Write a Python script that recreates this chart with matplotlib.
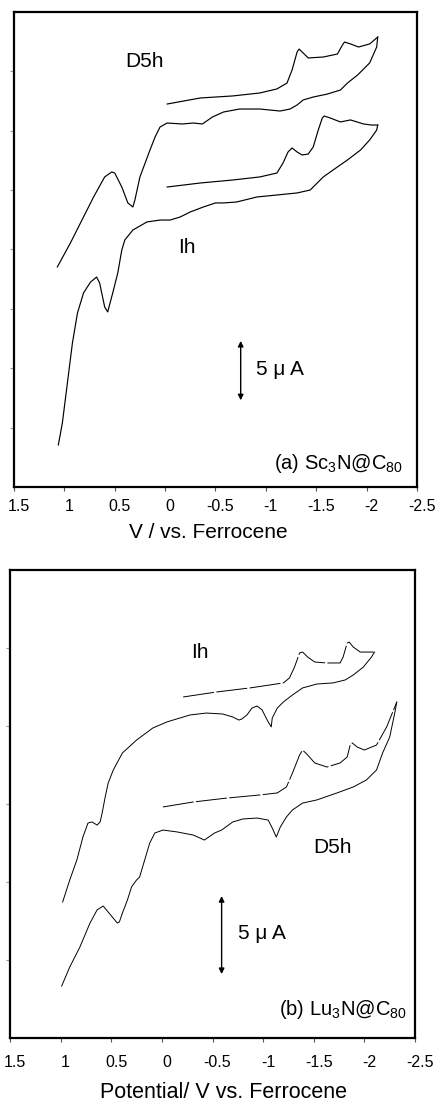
# coding:utf-8
'''
   function: cyclic voltammograms of Sc3N@C80 and Lu3N@C80 (Ih and D5h isomers)
'''
import matplotlib
matplotlib.use('Agg')
import matplotlib.pyplot as plt
import matplotlib.transforms as mtransforms

plt.rcParams['font.family'] = ['Liberation Sans', 'DejaVu Sans']
plt.rcParams['mathtext.default'] = 'regular'
plt.rcParams['lines.solid_joinstyle'] = 'round'
plt.rcParams['lines.dash_joinstyle'] = 'round'

x_ticks = [1.5, 1, 0.5, 0, -0.5, -1, -1.5, -2, -2.5]
x_tick_labels = ['1.5', '1', '0.5', '0', '-0.5', '-1', '-1.5', '-2', '-2.5']

# (a) Sc3N@C80  D5h  (V vs Fc, current in uA, arbitrary offset)
sc_d5h_fwd_v = [-0.02, -0.35, -0.67, -0.94, -1.11, -1.21, -1.26, -1.31, -1.33, -1.37,
                -1.42, -1.57, -1.71, -1.76, -1.78, -1.84, -1.92, -2.03, -2.11]
sc_d5h_fwd_i = [32.25, 32.76, 32.93, 33.18, 33.52, 34.02, 35.12, 36.63, 36.88, 36.55,
                36.13, 36.21, 36.46, 37.22, 37.47, 37.31, 37.05, 37.31, 37.89]
sc_d5h_rev_v = [-2.11, -2.10, -2.03, -1.91, -1.81, -1.74, -1.61, -1.47, -1.37, -1.31,
                -1.24, -1.14, -0.94, -0.74, -0.58, -0.47, -0.37, -0.28, -0.17, -0.02,
                0.05, 0.10, 0.15, 0.25, 0.30, 0.32, 0.37, 0.43, 0.50, 0.53,
                0.60, 0.71, 0.81, 0.94, 1.07]
sc_d5h_rev_i = [37.89, 37.05, 35.71, 34.69, 34.02, 33.43, 33.09, 32.84, 32.59, 32.17,
                31.83, 31.66, 31.83, 31.83, 31.58, 31.16, 30.57, 30.65, 30.57, 30.65,
                30.32, 29.47, 28.38, 26.11, 24.17, 23.58, 23.92, 25.26, 26.44, 26.53,
                26.11, 24.42, 22.74, 20.55, 18.53]

# (a) Sc3N@C80  Ih
sc_ih_fwd_v = [-0.02, -0.35, -0.67, -0.94, -1.11, -1.17, -1.22, -1.26, -1.31, -1.36,
               -1.42, -1.47, -1.52, -1.56, -1.58, -1.64, -1.74, -1.84, -1.97, -2.05, -2.11]
sc_ih_fwd_i = [25.26, 25.60, 25.85, 26.11, 26.44, 27.28, 28.21, 28.55, 28.21, 27.96,
               28.04, 28.63, 30.06, 31.07, 31.24, 31.07, 30.74, 30.91, 30.57, 30.48, 30.48]
sc_ih_rev_v = [-2.11, -2.10, -2.03, -1.94, -1.81, -1.71, -1.57, -1.44, -1.31, -1.11,
               -0.91, -0.71, -0.58, -0.50, -0.38, -0.25, -0.15, -0.05, 0.05, 0.18,
               0.32, 0.40, 0.43, 0.47, 0.52, 0.57, 0.60, 0.65, 0.68, 0.74,
               0.81, 0.87, 0.92, 0.97, 1.02, 1.06]
sc_ih_rev_i = [30.48, 30.06, 29.22, 28.38, 27.54, 26.95, 26.11, 25.01, 24.76, 24.59,
               24.42, 24.00, 23.92, 23.92, 23.58, 23.16, 22.74, 22.48, 22.48, 22.32,
               21.64, 20.80, 19.96, 18.02, 16.34, 14.74, 15.16, 17.18, 17.68, 17.26,
               16.34, 14.65, 12.13, 8.76, 5.39, 3.54]

# (b) Lu3N@C80  Ih
lu_ih_fwd_v = [-0.21, -0.54, -0.87, -1.20, -1.26, -1.31, -1.36, -1.39, -1.44, -1.51,
               -1.63, -1.76, -1.79, -1.83, -1.85, -1.89, -1.96, -2.08, -2.10]
lu_ih_fwd_i = [21.86, 22.18, 22.44, 22.76, 23.08, 23.78, 24.68, 24.74, 24.42, 24.10,
               24.04, 24.04, 24.42, 25.32, 25.38, 25.06, 24.74, 24.74, 24.74]
lu_ih_rev_v = [-2.10, -2.07, -1.99, -1.89, -1.81, -1.69, -1.53, -1.39, -1.29, -1.20,
               -1.14, -1.09, -1.08, -1.04, -0.99, -0.94, -0.89, -0.84, -0.79, -0.76,
               -0.70, -0.60, -0.44, -0.28, -0.11, -0.05, 0.09, 0.25, 0.39, 0.48,
               0.53, 0.56, 0.59, 0.61, 0.64, 0.69, 0.73, 0.78, 0.84, 0.91, 0.98]
lu_ih_rev_i = [24.74, 24.42, 23.78, 23.27, 22.95, 22.76, 22.69, 22.44, 21.99, 21.54,
               21.15, 20.51, 19.94, 20.38, 21.03, 21.28, 21.15, 20.71, 20.45, 20.38,
               20.58, 20.77, 20.83, 20.71, 20.38, 20.26, 19.87, 19.10, 18.27, 17.18,
               16.35, 15.45, 14.42, 13.85, 13.65, 13.85, 13.78, 12.88, 11.41, 10.13, 8.72]

# (b) Lu3N@C80  D5h
lu_d5h_fwd_v = [-0.01, -0.31, -0.64, -0.97, -1.14, -1.23, -1.29, -1.36, -1.39, -1.44,
                -1.51, -1.63, -1.76, -1.83, -1.86, -1.88, -1.93, -2.00, -2.12, -2.22,
                -2.28, -2.32]
lu_d5h_fwd_i = [14.81, 15.13, 15.38, 15.58, 15.71, 16.09, 16.99, 18.14, 18.46, 18.14,
                17.63, 17.37, 17.63, 18.01, 18.78, 18.91, 18.65, 18.46, 18.78, 19.94,
                20.90, 21.54]
lu_d5h_rev_v = [-2.32, -2.30, -2.25, -2.18, -2.12, -2.02, -1.89, -1.73, -1.53, -1.39,
                -1.29, -1.23, -1.17, -1.13, -1.09, -1.05, -0.94, -0.80, -0.70, -0.59,
                -0.52, -0.42, -0.31, -0.15, -0.01, 0.07, 0.12, 0.17, 0.22, 0.25,
                0.30, 0.34, 0.39, 0.42, 0.44, 0.49, 0.58, 0.64, 0.71, 0.81, 0.91, 0.99]
lu_d5h_rev_i = [21.54, 20.83, 19.29, 18.27, 17.18, 16.54, 16.09, 15.71, 15.26, 15.06,
                14.62, 14.17, 13.53, 12.88, 13.46, 13.97, 14.10, 14.04, 13.85, 13.33,
                13.14, 12.69, 13.01, 13.21, 13.33, 13.14, 12.50, 11.41, 10.32, 10.13,
                9.68, 8.85, 8.01, 7.44, 7.37, 7.76, 8.46, 8.21, 7.37, 5.83, 4.55, 3.33]


# 坐标轴外观
def style_axes(ax, ylim, pad):
    ax.set_xlim(1.5, -2.5)
    ax.set_ylim(*ylim)
    ax.set_xticks(x_ticks)
    ax.set_xticklabels(x_tick_labels)
    ax.set_yticks(list(range(5, int(ylim[1]), 5)))
    ax.tick_params(axis='x', direction='out', length=3, width=0.8, color='#555555',
                   labelsize=11.5, pad=pad)
    ax.tick_params(axis='y', direction='out', length=3, width=0.8, color='#999999',
                   labelleft=False)
    for s in ax.spines.values():
        s.set_linewidth(1.6)
    shift = mtransforms.ScaledTranslation(5 / 100, 0, ax.figure.dpi_scale_trans)
    for lab in ax.get_xticklabels():
        lab.set_transform(lab.get_transform() + shift)


def scale_bar(ax, v, i0, txt_v):
    ax.annotate('', xy=(v, i0), xytext=(v, i0 + 5),
                arrowprops=dict(arrowstyle='<|-|>', color='black', lw=1.0,
                                mutation_scale=8, shrinkA=0, shrinkB=0))
    ax.text(txt_v, i0 + 2.6, u'5 \u03bc A', fontsize=15, va='center', ha='left')


fig = plt.figure(figsize=(4.43, 11.01), dpi=100)

# (a)
ax1 = fig.add_axes([0.0316, 0.5577, 0.9097, 0.4314])
ax1.plot(sc_d5h_fwd_v, sc_d5h_fwd_i, color='black', lw=0.85)
ax1.plot(sc_d5h_rev_v, sc_d5h_rev_i, color='black', lw=0.85)
ax1.plot(sc_ih_fwd_v, sc_ih_fwd_i, color='black', lw=0.85)
ax1.plot(sc_ih_rev_v, sc_ih_rev_i, color='black', lw=0.85)
style_axes(ax1, (0, 40), 6)
ax1.text(0.20, 35.8, 'D5h', fontsize=15, ha='center', va='center')
ax1.text(-0.22, 20.2, 'Ih', fontsize=15, ha='center', va='center')
scale_bar(ax1, -0.75, 7.3, -0.90)
ax1.text(-2.36, 2.0, '(a) Sc$_3$N@C$_{80}$', fontsize=14.5, ha='right', va='center')
ax1.set_xlabel('V / vs. Ferrocene', fontsize=15)
ax1.xaxis.set_label_coords(0.481, -0.076)

# (b)
ax2 = fig.add_axes([0.0226, 0.0572, 0.9142, 0.4251])
ax2.plot(lu_ih_fwd_v, lu_ih_fwd_i, color='black', lw=0.7, dashes=(32, 2.5))
ax2.plot(lu_ih_rev_v, lu_ih_rev_i, color='black', lw=0.7)
ax2.plot(lu_d5h_fwd_v, lu_d5h_fwd_i, color='black', lw=0.7, dashes=(32, 2.5))
ax2.plot(lu_d5h_rev_v, lu_d5h_rev_i, color='black', lw=0.7)
style_axes(ax2, (0, 30), 9)
ax2.text(-0.375, 24.7, 'Ih', fontsize=15, ha='center', va='center')
ax2.text(-1.69, 12.2, 'D5h', fontsize=15, ha='center', va='center')
scale_bar(ax2, -0.59, 4.1, -0.75)
ax2.text(-2.42, 1.8, '(b) Lu$_3$N@C$_{80}$', fontsize=14.5, ha='right', va='center')
ax2.set_xlabel('Potential/ V vs. Ferrocene', fontsize=15.5)
ax2.xaxis.set_label_coords(0.528, -0.093)

fig.savefig('out.png', dpi=100)
